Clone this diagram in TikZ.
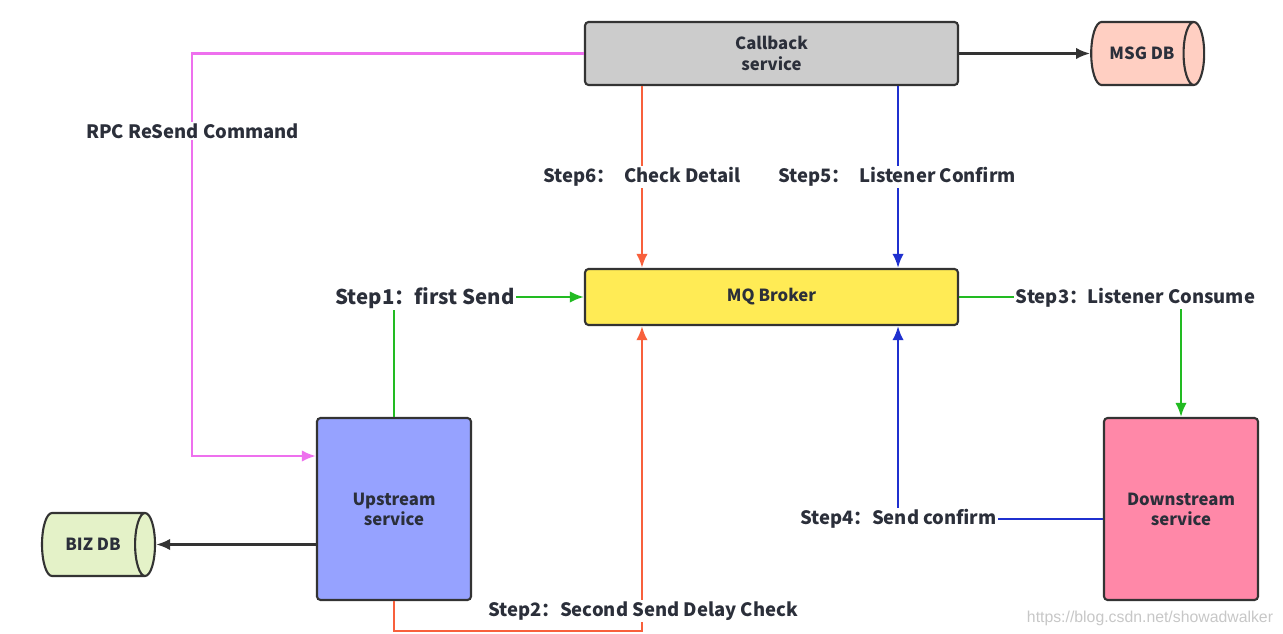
\documentclass[tikz,border=0pt]{standalone}
\usepackage{fontspec}
\setmainfont{Noto Sans CJK SC}
\newfontfamily\markfont{Liberation Sans}
\usetikzlibrary{shapes.geometric,arrows.meta}

\definecolor{edge}{HTML}{333333}
\definecolor{ink}{HTML}{2B2F3A}
\definecolor{cbgray}{HTML}{CCCCCC}
\definecolor{mqyellow}{HTML}{FFEB55}
\definecolor{upblue}{HTML}{96A2FF}
\definecolor{downpink}{HTML}{FF88A8}
\definecolor{msgsalmon}{HTML}{FFCFC2}
\definecolor{bizgreen}{HTML}{E4F2C8}
\definecolor{rpcpink}{HTML}{EE70EE}
\definecolor{chkorange}{HTML}{F8603C}
\definecolor{cfmblue}{HTML}{1F30CF}
\definecolor{sndgreen}{HTML}{22BB22}

\tikzset{
  svc/.style={draw=edge, line width=1.2pt, rounded corners=2pt, align=center,
    text=ink, inner sep=0pt},
  db/.style={cylinder, draw=edge, line width=1.2pt, text=ink, shape aspect=1.6,
    inner sep=0pt, minimum width=1.26cm, minimum height=2.26cm},
  lbl/.style={fill=white, text=ink, inner sep=1pt, font=\bfseries\fontsize{10.5}{12.5}\selectfont},
  link/.style={line width=1.4pt, -{Latex[length=8pt,width=6.5pt]}}
}

\begin{document}
\begin{tikzpicture}[x=0.02cm, y=-0.02cm, font=\bfseries\fontsize{9.5}{11.5}\selectfont]
  \useasboundingbox (0,0) rectangle (1283,634);

  % services
  \node[svc, fill=cbgray, minimum width=7.46cm, minimum height=1.26cm] (cb) at (771.5,53.5) {Callback\\service};
  \node[svc, fill=mqyellow, minimum width=7.46cm, minimum height=1.12cm] (mq) at (771.5,297) {MQ Broker};
  \node[svc, fill=upblue, minimum width=3.08cm, minimum height=3.64cm] (up) at (394,509) {Upstream\\service};
  \node[svc, fill=downpink, minimum width=3.08cm, minimum height=3.64cm] (down) at (1181,509) {Downstream\\service};

  % databases
  \node[db, fill=msgsalmon] (msg) at (1142,53.5) {MSG DB};
  \node[db, fill=bizgreen] (biz) at (93,544.5) {BIZ DB};

  % store
  \draw[link, edge] (cb) -- (msg);
  \draw[link, edge] (up.west |- biz.east) -- (biz.east);

  % resend
  \coordinate (rpcturn) at (192,456);
  \draw[link, rpcpink] (cb.west) -| (rpcturn) -- (up.west |- rpcturn);
  \node[lbl] (rpclbl) at (192.5,131) {RPC ReSend Command};

  % step 1 and 3
  \draw[link, sndgreen] (up.north) |- (mq.west);
  \draw[link, sndgreen] (mq.east) -| (down.north);
  \node[lbl, font=\bfseries\fontsize{11.6}{13.5}\selectfont] (s1) at (425,298) {Step1：first Send};
  \node[lbl] (s3) at (1135.5,298) {Step3：Listener Consume};

  % step 2 and 6
  \draw[link, chkorange] (up.south) -- ++(0,30) -| ([xshift=1.16cm]mq.south west);
  \draw[link, chkorange] ([xshift=1.16cm]cb.south west) -- ([xshift=1.16cm]mq.north west);
  \node[lbl] (s2) at (643,611) {Step2：Second Send Delay Check};
  \node[lbl] (s6) at (642,177) {Step6：\hspace{0.5em}Check Detail};

  % step 4 and 5
  \draw[link, cfmblue] ([yshift=-0.2cm]down.west) -| ([xshift=-1.22cm]mq.south east);
  \draw[link, cfmblue] ([xshift=-1.22cm]cb.south east) -- ([xshift=-1.22cm]mq.north east);
  \node[lbl] (s4) at (898.5,519) {Step4：Send confirm};
  \node[lbl] (s5) at (897,177) {Step5：\hspace{0.5em}Listener Confirm};

  \node[text=black!22, font=\markfont\fontsize{9}{11}\selectfont] (mark) at (1150,618) {https://blog.csdn.net/showadwalker};
\end{tikzpicture}
\end{document}
